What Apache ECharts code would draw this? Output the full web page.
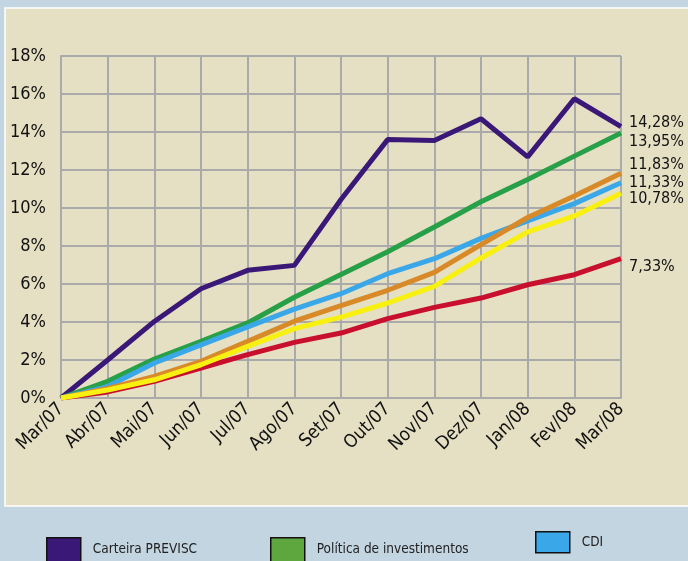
<!DOCTYPE html>
<html>
<head>
<meta charset="utf-8">
<script src="https://cdn.jsdelivr.net/npm/echarts@6/dist/echarts.min.js"></script>
<style>
  html, body { margin: 0; padding: 0; background: #c4d5e2; }
  #chart { width: 688px; height: 561px; }
</style>
</head>
<body>
<div id="chart"></div>
<script>
  // months
  var meses = ['Mar/07', 'Abr/07', 'Mai/07', 'Jun/07', 'Jul/07', 'Ago/07', 'Set/07', 'Out/07', 'Nov/07', 'Dez/07', 'Jan/08', 'Fev/08', 'Mar/08']
  // accumulated returns (%)
  var previsc = [0, 2.0, 4.03, 5.75, 6.72, 6.98, 10.45, 13.6, 13.55, 14.7, 12.69, 15.75, 14.28]
  var politica = [0, 0.88, 2.05, 2.98, 3.95, 5.3, 6.5, 7.7, 9.0, 10.33, 11.5, 12.73, 13.95]
  var cdi = [0, 0.6, 1.84, 2.8, 3.74, 4.68, 5.49, 6.54, 7.33, 8.4, 9.32, 10.23, 11.33]
  var laranja = [0, 0.5, 1.14, 1.93, 2.98, 4.04, 4.86, 5.67, 6.61, 8.07, 9.5, 10.63, 11.83]
  var amarela = [0, 0.42, 0.96, 1.75, 2.72, 3.65, 4.26, 5.0, 5.88, 7.37, 8.74, 9.58, 10.78]
  var vermelha = [0, 0.32, 0.88, 1.58, 2.28, 2.93, 3.42, 4.18, 4.77, 5.26, 5.96, 6.49, 7.33]

  var fonte = '"DejaVu Sans Condensed", "Liberation Sans Narrow", sans-serif'
  // goes into the canvas font shorthand as font-stretch
  var estreita = 'condensed'

  function fmt (v) {
    return v.toFixed(2).replace('.', ',') + '%'
  }

  function linha (name, data, color, dy, z) {
    return {
      name: name,
      type: 'line',
      data: data,
      z: z,
      symbol: 'none',
      lineStyle: { color: color, width: 5 },
      itemStyle: { color: color },
      endLabel: {
        show: true,
        formatter: function (p) { return fmt(p.value) },
        offset: [0, dy],
        distance: 8,
        color: '#111',
        fontFamily: fonte,
        fontWeight: estreita,
        fontSize: 16
      }
    }
  }

  function legenda (name, left, top, h, color) {
    return {
      left: left,
      top: top,
      padding: 0,
      itemWidth: 34,
      itemHeight: h,
      icon: 'rect',
      selectedMode: false,
      data: [{ name: name, itemStyle: { color: color, borderColor: '#111', borderWidth: 1.5 } }],
      textStyle: { color: '#222', fontFamily: fonte, fontWeight: estreita, fontSize: 13.5, padding: [0, 0, 0, 7] }
    }
  }

  var myChart = echarts.init(document.getElementById('chart'))
  myChart.setOption({
    animation: false,
    backgroundColor: '#c4d5e2',
    graphic: [{
      type: 'rect',
      z: -10,
      shape: { x: 5, y: 8, width: 700, height: 498 },
      style: { fill: '#e5dfc3', stroke: '#ffffff', lineWidth: 1.5 }
    }],
    legend: [
      legenda('Carteira PREVISC', 46, 537, 24, '#3a1878'),
      legenda('Política de investimentos', 270, 537, 24, '#5ea63e'),
      legenda('CDI', 535, 531, 21, '#3aa8e8')
    ],
    grid: { left: 61, right: 67, top: 56, bottom: 163 },
    xAxis: {
      type: 'category',
      data: meses,
      boundaryGap: false,
      axisLine: { lineStyle: { color: '#aaaaaa', width: 2 } },
      axisTick: { show: false },
      splitLine: { show: true, lineStyle: { color: '#aaaaaa', width: 2 } },
      axisLabel: {
        rotate: 45,
        interval: 0,
        margin: 8,
        color: '#111',
        fontFamily: fonte,
        fontWeight: estreita,
        fontSize: 18.5
      }
    },
    yAxis: {
      type: 'value',
      min: 0,
      max: 18,
      interval: 2,
      axisLine: { show: true, lineStyle: { color: '#aaaaaa', width: 2 } },
      axisTick: { show: false },
      splitLine: { lineStyle: { color: '#aaaaaa', width: 2 } },
      axisLabel: {
        formatter: '{value}%',
        margin: 15,
        color: '#111',
        fontFamily: fonte,
        fontWeight: estreita,
        fontSize: 18
      }
    },
    series: [
      linha('Série vermelha', vermelha, '#c8102e', 8, 2),
      linha('Carteira PREVISC', previsc, '#3a1878', -4, 3),
      linha('Política de investimentos', politica, '#27a048', 9, 4),
      linha('CDI', cdi, '#3aa8e8', 0, 5),
      linha('Série laranja', laranja, '#d88a28', -8, 6),
      linha('Série amarela', amarela, '#f8f010', 6, 7)
    ]
  })
</script>
</body>
</html>
